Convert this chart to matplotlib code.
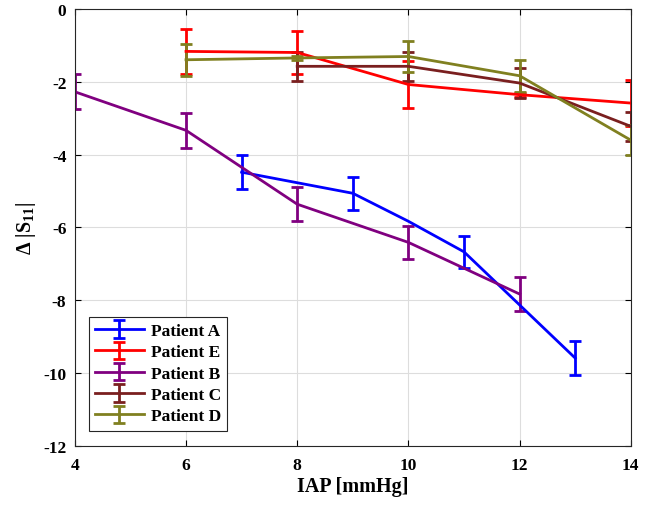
import numpy as np
import matplotlib
matplotlib.use('Agg')
import matplotlib.pyplot as plt

# IAP [mmHg] and Delta |S11| per patient
iap_a = [7, 9, 10, 11, 13]
s11_a = [-4.48, -5.06, -5.83, -6.67, -9.59]
err_a = [0.46, 0.46, 0.0, 0.44, 0.47]

iap_e = [6, 8, 10, 12, 14]
s11_e = [-1.16, -1.19, -2.07, -2.35, -2.58]
err_e = [0.62, 0.60, 0.64, 0.05, 0.63]

iap_b = [4, 6, 8, 10, 12]
s11_b = [-2.27, -3.33, -5.36, -6.41, -7.83]
err_b = [0.48, 0.49, 0.47, 0.46, 0.47]

iap_c = [8, 10, 12, 14]
s11_c = [-1.57, -1.57, -2.03, -3.22]
err_c = [0.39, 0.40, 0.41, 0.40]

iap_d = [6, 8, 10, 12, 14]
s11_d = [-1.39, -1.34, -1.30, -1.83, -3.60]
err_d = [0.44, 0.05, 0.43, 0.44, 0.42]

names = ['Patient A', 'Patient E', 'Patient B', 'Patient C', 'Patient D']
colors = ['#0000ff', '#ff0000', '#800080', '#7a1f1f', '#808020']

plt.rcParams['font.family'] = ['Liberation Serif', 'DejaVu Serif']
plt.rcParams['font.weight'] = 'bold'
plt.rcParams['axes.unicode_minus'] = False
plt.rcParams['mathtext.fontset'] = 'custom'
plt.rcParams['mathtext.rm'] = 'Liberation Serif:bold'
plt.rcParams['mathtext.it'] = 'Liberation Serif:bold'
plt.rcParams['mathtext.bf'] = 'Liberation Serif:bold'

fig = plt.figure(figsize=(6.45, 5.1), dpi=100)
ax = fig.add_axes([0.116, 0.124, 0.862, 0.856])

series = [(iap_a, s11_a, err_a), (iap_e, s11_e, err_e), (iap_b, s11_b, err_b),
          (iap_c, s11_c, err_c), (iap_d, s11_d, err_d)]
for (x, y, e), name, col in zip(series, names, colors):
    # skip bars for points without a measured spread
    mask = [v > 0 for v in e]
    ax.errorbar(x, y, yerr=e, errorevery=mask, color=col, lw=2, elinewidth=2,
                capsize=4, capthick=2, label=name)

ax.set_xlim(4, 14)
ax.set_ylim(-12, 0)
ax.set_xticks(np.arange(4, 15, 2))
ax.set_yticks(np.arange(-12, 1, 2))
ax.grid(True, color='#dddddd', lw=0.8)
ax.set_axisbelow(True)
ax.tick_params(direction='in', labelsize=12.5, length=4, top=True, right=True)
ax.tick_params(axis='x', pad=8)
ax.tick_params(axis='y', pad=6)
for lab in ax.get_xticklabels() + ax.get_yticklabels():
    lab.set_fontweight('bold')
for s in ax.spines.values():
    s.set_color('#262626')

ax.set_xlabel('IAP [mmHg]', fontsize=14.5, fontweight='bold', labelpad=2)
ax.set_ylabel(r'$\Delta$ |S$_{11}$|', fontsize=14.5, fontweight='bold')

leg = ax.legend(loc='lower left', bbox_to_anchor=(0.01, 0.015),
                prop={'weight': 'bold', 'size': 12.5}, fancybox=False,
                edgecolor='#262626', framealpha=1, handlelength=2.8,
                labelspacing=0.3, borderpad=0.35, handletextpad=0.4)
leg.get_frame().set_linewidth(0.8)

fig.savefig('out.png', dpi=100)
